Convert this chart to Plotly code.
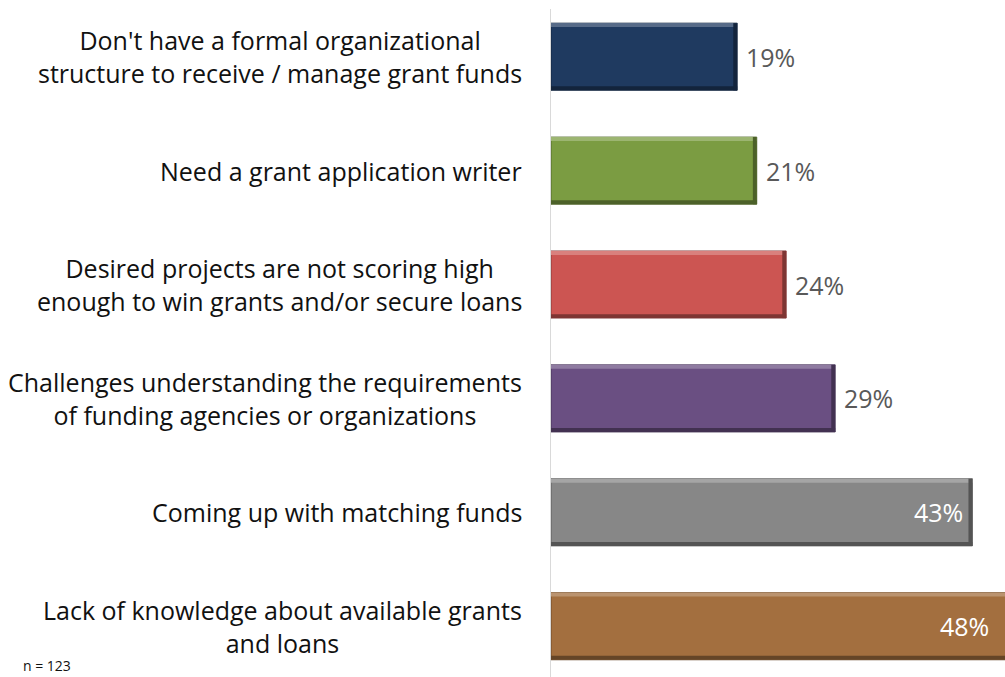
import plotly.graph_objects as go

# Survey responses: barriers to obtaining grants / loans (n = 123)
categories = [
    "Don't have a formal organizational<br>structure to receive / manage grant funds",
    "Need a grant application writer",
    "Desired projects are not scoring high<br>enough to win grants and/or secure loans",
    "Challenges understanding the requirements<br>of funding agencies or organizations",
    "Coming up with matching funds",
    "Lack of knowledge about available grants<br>and loans",
]
values = [19, 21, 24, 29, 43, 48]
bar_colors = ["#1f3a60", "#7b9c42", "#cc5552", "#6a4f82", "#878787", "#a36f3f"]
sample_note = "n = 123"

FONT = "Open Sans"
X_MAX = 46.33          # axis stops short of the largest bar, which runs off the edge
BAR_W = 0.59
EDGE = 0.035           # bevel strip thickness (category units)
EDGE_X = 0.4           # right bevel thickness (value units)


def mix(hex_color, other, t):
    h = hex_color.lstrip("#")
    o = other.lstrip("#")
    c = [int(h[i:i + 2], 16) for i in (0, 2, 4)]
    d = [int(o[i:i + 2], 16) for i in (0, 2, 4)]
    r = [round(a + (b - a) * t) for a, b in zip(c, d)]
    return "#%02x%02x%02x" % tuple(r)


light = [mix(c, "#ffffff", 0.25) for c in bar_colors]
dark = [mix(c, "#000000", 0.38) for c in bar_colors]

fig = go.Figure()

# main bars
fig.add_trace(go.Bar(
    x=values, y=categories, orientation="h", width=BAR_W,
    marker=dict(color=bar_colors, line=dict(color=dark, width=0.8)),
    hoverinfo="skip",
))
# top highlight of the bevel
fig.add_trace(go.Bar(
    x=values, y=categories, orientation="h", width=EDGE, offset=-BAR_W / 2,
    marker=dict(color=light, line=dict(width=0)), hoverinfo="skip",
))
# bottom shadow of the bevel
fig.add_trace(go.Bar(
    x=values, y=categories, orientation="h", width=EDGE, offset=BAR_W / 2 - EDGE,
    marker=dict(color=dark, line=dict(width=0)), hoverinfo="skip",
))
# right-hand shadow of the bevel
fig.add_trace(go.Bar(
    x=[EDGE_X] * len(values), base=[v - EDGE_X for v in values], y=categories,
    orientation="h", width=BAR_W,
    marker=dict(color=dark, line=dict(width=0)), hoverinfo="skip",
))

annotations = []
# category labels: centred lines, block right-aligned against the axis
for cat in categories:
    annotations.append(dict(
        x=0, xref="paper", y=cat, yref="y", text=cat, showarrow=False,
        xanchor="right", yanchor="middle", align="center", xshift=-27,
        font=dict(family=FONT, size=25, color="#111111"),
    ))

# value labels: outside for short bars, inside (white) for long bars
for cat, v in zip(categories, values):
    if v >= 40:
        annotations.append(dict(
            x=min(v, X_MAX - 0.7), y=cat, xref="x", yref="y", text=f"{v}%",
            showarrow=False, xanchor="right", yanchor="middle", xshift=-7,
            font=dict(family=FONT, size=25, color="#ffffff"),
        ))
    else:
        annotations.append(dict(
            x=v, y=cat, xref="x", yref="y", text=f"{v}%",
            showarrow=False, xanchor="left", yanchor="middle", xshift=7,
            font=dict(family=FONT, size=25, color="#595959"),
        ))

# sample size note in the lower-left corner
annotations.append(dict(
    x=-(551 - 21) / 454, y=12 / 668, xref="paper", yref="paper",
    text=sample_note, showarrow=False, xanchor="left", yanchor="middle",
    font=dict(family=FONT, size=14, color="#111111"),
))

fig.update_layout(
    width=1005, height=677,
    margin=dict(l=551, r=0, t=9, b=0, pad=0),
    paper_bgcolor="white", plot_bgcolor="white",
    barmode="overlay", showlegend=False,
    xaxis=dict(range=[0, X_MAX], visible=False, fixedrange=True),
    yaxis=dict(
        range=[5.446, -0.419], showticklabels=False, ticks="",
        showgrid=False, zeroline=False,
        showline=True, linecolor="#d9d9d9", linewidth=1.3, fixedrange=True,
    ),
    annotations=annotations,
)

fig.write_html("out.html", config={"displayModeBar": False})
